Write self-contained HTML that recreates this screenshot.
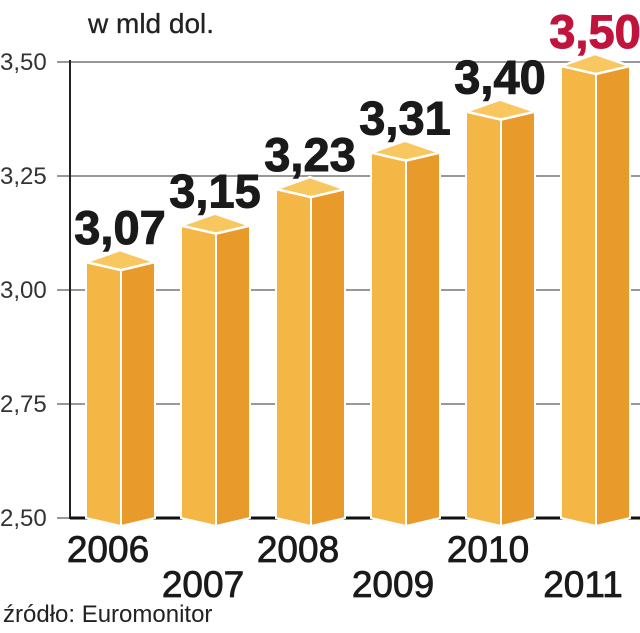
<!DOCTYPE html>
<html><head><meta charset="utf-8"><style>
body{margin:0;background:#fff;}
svg{display:block;font-family:"Liberation Sans",sans-serif;}
</style></head><body>
<svg id="c" width="640" height="633">
<text x="88" y="33" font-size="28" fill="#222" stroke="#222" stroke-width="0.3">w mld dol.</text>
<text x="3" y="622" font-size="24" fill="#222">źródło: Euromonitor</text>
<g id="grid"></g><g id="bars"></g>
</svg>
<script>
const categories=["2006","2007","2008","2009","2010","2011"];
const values=[3.07,3.15,3.23,3.31,3.40,3.50];
const valueLabels=["3,07","3,15","3,23","3,31","3,40","3,50"];
const ticks=[2.5,2.75,3.0,3.25,3.5];
const tickLabels=["2,50","2,75","3,00","3,25","3,50"];
const NS="http://www.w3.org/2000/svg";
const y=v=>518-(v-2.5)*456;
const x=i=>86+i*95;
function mk(t,a,p){const e=document.createElementNS(NS,t);for(const k in a)e.setAttribute(k,a[k]);p.appendChild(e);return e;}
const g=document.getElementById('grid'),b=document.getElementById('bars');
ticks.forEach((t,i)=>{
 const l=mk('line',{x1:57,x2:640,y1:y(t),y2:y(t),stroke:'#777','stroke-width':1.5},g);
 
 
 const tx=mk('text',{x:0,y:y(t)+8,'font-size':24,fill:'#333'},g);tx.textContent=tickLabels[i];
 
 
});
const ax=mk('line',{x1:70,x2:70,y1:y(3.5)-2,y2:519,stroke:'#222','stroke-width':2},g);


const base=mk('line',{x1:70,x2:640,y1:518,y2:518,stroke:'#111','stroke-width':3},g);


values.forEach((v,i)=>{
 const x0=x(i),yv=y(v);
 const gr=mk('g',{},b);
 
 
 mk('polygon',{points:`${x0},${yv+4} ${x0+35},${yv+12} ${x0+35},526 ${x0},518`,fill:'#F4B746',stroke:'#fff','stroke-width':2},gr);
 mk('polygon',{points:`${x0+35},${yv+12} ${x0+69},${yv+4} ${x0+69},518 ${x0+35},526`,fill:'#E89B2B',stroke:'#fff','stroke-width':2},gr);
 mk('polygon',{points:`${x0},${yv+4} ${x0+34},${yv-8} ${x0+69},${yv+4} ${x0+35},${yv+12}`,fill:'#F8C760',stroke:'#fff','stroke-width':2.5},gr);
 const vl=mk('text',{x:x0+34,y:yv-14,'text-anchor':'middle','font-size':47,'font-weight':'bold',fill:i==5?'#C0143C':'#1a1a1a',stroke:i==5?'#C0143C':'#1a1a1a','stroke-width':1},b);
 vl.textContent=valueLabels[i];
 
 
 const cl=mk('text',{x:x0+22,y:i%2==0?562:597,'text-anchor':'middle','font-size':37,fill:'#1a1a1a',stroke:'#1a1a1a','stroke-width':0.8},b);
 cl.textContent=categories[i];
 
 
});
</script>
</body></html>
